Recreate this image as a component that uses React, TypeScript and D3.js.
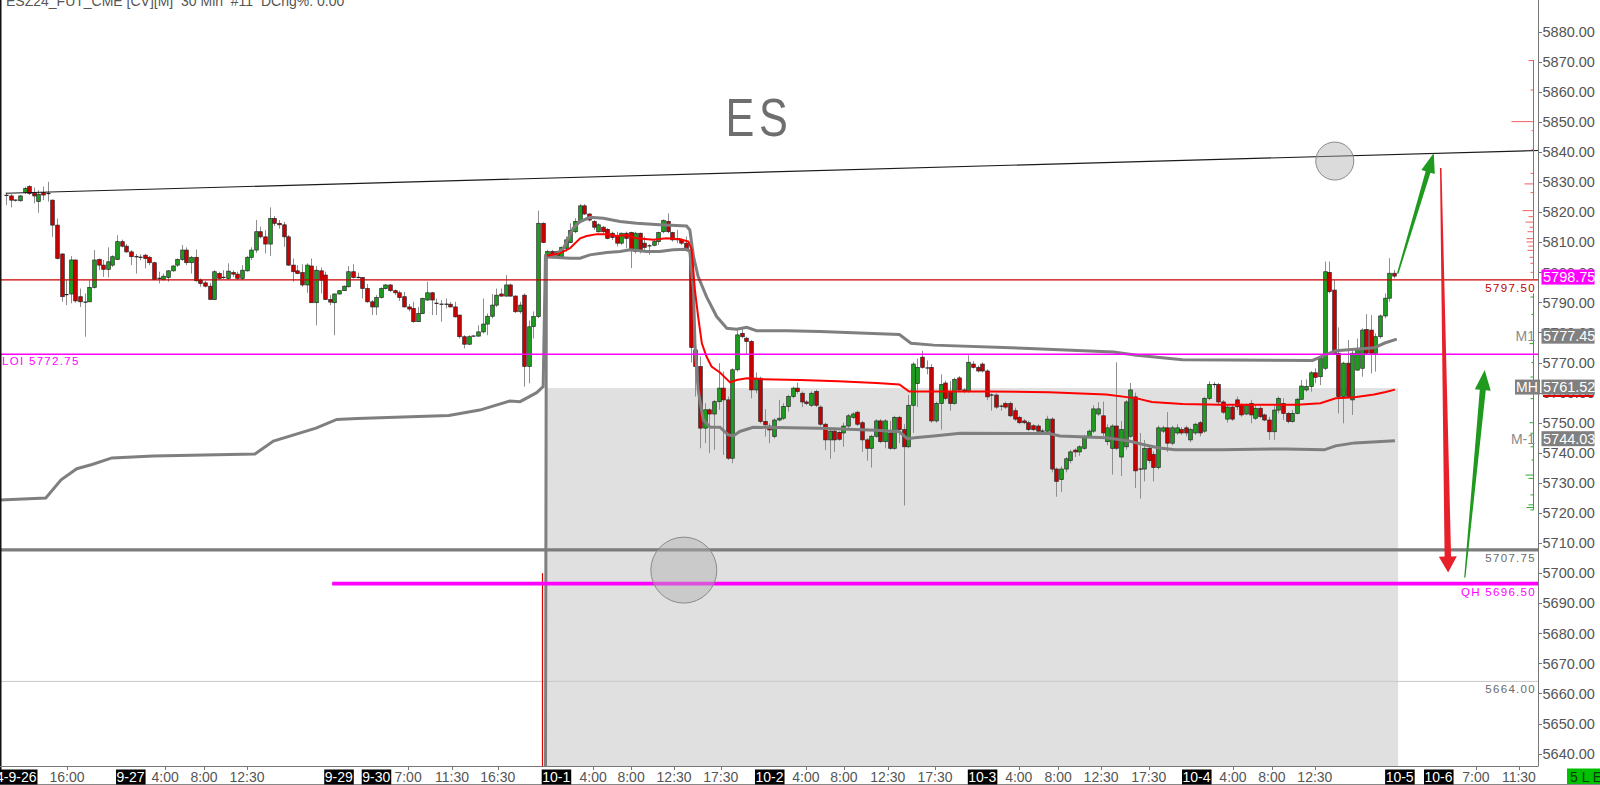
import React, { useEffect, useRef } from "react";
import * as d3 from "d3";

type Bar = [number, number, number, number]; // open, high, low, close

const title = "ESZ24_FUT_CME [CV][M]  30 Min  #11  DChg%: 0.00";
const symbolText = "ES";

const bars0926: Bar[] = [
  [5825.6, 5826.5, 5822.4, 5825.6], [5825.4, 5826.0, 5821.6, 5824.0], [5824.0, 5824.2, 5823.5, 5824.0], [5823.8, 5825.7, 5823.5, 5825.4],
  [5826.5, 5828.5, 5826.0, 5827.9], [5828.5, 5829.0, 5825.7, 5826.2], [5826.5, 5828.2, 5822.9, 5825.4], [5823.5, 5827.3, 5819.8, 5826.0],
  [5826.5, 5828.5, 5824.0, 5825.7], [5826.2, 5830.1, 5823.5, 5826.2], [5824.0, 5824.2, 5811.8, 5815.7], [5815.7, 5817.9, 5804.3, 5804.6],
  [5806.1, 5806.3, 5790.2, 5791.9], [5792.6, 5797.4, 5789.1, 5792.6], [5792.8, 5805.4, 5789.7, 5804.1], [5804.1, 5804.3, 5789.9, 5790.5],
  [5791.9, 5794.6, 5788.5, 5790.2], [5790.1, 5793.0, 5778.6, 5790.1], [5790.2, 5797.4, 5790.2, 5795.0], [5795.0, 5807.4, 5794.6, 5804.1],
  [5804.3, 5804.6, 5800.7, 5802.4], [5802.4, 5804.1, 5798.5, 5801.0], [5801.0, 5808.3, 5798.3, 5803.5], [5802.4, 5805.7, 5801.8, 5805.2],
];
const bars0927: Bar[] = [
  [5804.3, 5812.3, 5804.1, 5810.2], [5810.2, 5810.9, 5808.3, 5808.7], [5808.7, 5809.4, 5806.5, 5806.8], [5806.8, 5807.4, 5802.4, 5805.2],
  [5805.2, 5806.1, 5799.6, 5805.2], [5805.2, 5806.0, 5804.0, 5805.0], [5805.7, 5806.1, 5801.3, 5804.6], [5805.0, 5805.4, 5802.4, 5803.2],
  [5803.2, 5803.5, 5797.4, 5797.6], [5798.0, 5800.2, 5796.3, 5798.0], [5797.6, 5799.6, 5797.2, 5798.7], [5798.3, 5800.7, 5796.9, 5800.5],
  [5800.5, 5802.4, 5800.2, 5802.1], [5802.4, 5804.6, 5801.8, 5804.3], [5804.3, 5809.1, 5803.8, 5807.4], [5807.4, 5808.3, 5802.4, 5803.2],
  [5803.2, 5805.4, 5799.6, 5805.0], [5805.0, 5807.6, 5796.9, 5797.2], [5797.4, 5798.0, 5795.2, 5796.3], [5796.5, 5797.2, 5795.0, 5795.4],
  [5795.4, 5796.5, 5790.8, 5791.0], [5791.0, 5800.7, 5790.8, 5800.2], [5799.6, 5800.2, 5797.6, 5798.0], [5798.3, 5800.7, 5797.8, 5798.3],
  [5798.0, 5803.0, 5797.6, 5800.4], [5799.9, 5800.7, 5798.5, 5799.4], [5799.4, 5800.2, 5797.6, 5798.0], [5798.0, 5802.4, 5797.4, 5800.7],
  [5800.5, 5805.4, 5800.2, 5805.0], [5805.0, 5808.3, 5804.1, 5807.4], [5807.4, 5817.4, 5806.5, 5813.5], [5813.5, 5815.2, 5811.3, 5811.8],
  [5811.8, 5814.0, 5806.3, 5809.4], [5809.4, 5821.6, 5805.4, 5817.9], [5817.9, 5818.7, 5815.4, 5816.3], [5816.3, 5817.4, 5814.5, 5815.8],
  [5815.8, 5816.8, 5808.5, 5811.8], [5811.8, 5812.4, 5802.1, 5802.4], [5802.4, 5804.6, 5796.9, 5800.2], [5800.5, 5802.4, 5799.4, 5799.6],
  [5799.9, 5802.7, 5795.2, 5795.8], [5795.8, 5803.0, 5793.2, 5802.4], [5802.1, 5804.6, 5789.9, 5789.9], [5789.9, 5802.1, 5782.4, 5800.7],
  [5800.5, 5801.6, 5793.0, 5797.4],
];
const bars0929: Bar[] = [
  [5799.1, 5800.2, 5790.8, 5791.0], [5791.0, 5792.4, 5789.1, 5790.1], [5789.9, 5793.0, 5779.1, 5792.8], [5792.8, 5794.0, 5792.6, 5793.9],
  [5793.9, 5795.6, 5793.8, 5795.4], [5795.2, 5802.1, 5795.0, 5800.2], [5800.2, 5802.7, 5798.0, 5798.3], [5798.3, 5799.9, 5798.0, 5798.3],
];
const bars0930: Bar[] = [
  [5798.3, 5798.3, 5791.3, 5794.6], [5794.6, 5796.1, 5789.9, 5790.2], [5790.2, 5790.8, 5785.8, 5788.5], [5788.5, 5792.4, 5785.8, 5791.6],
  [5791.6, 5795.0, 5791.3, 5794.6], [5794.6, 5796.1, 5794.3, 5795.8], [5795.8, 5796.1, 5793.5, 5793.9], [5793.9, 5794.3, 5792.4, 5793.2],
  [5793.2, 5793.9, 5790.5, 5791.6], [5791.9, 5793.5, 5788.3, 5788.5], [5788.5, 5789.5, 5787.0, 5787.8], [5788.0, 5790.2, 5783.2, 5783.6],
  [5783.6, 5788.5, 5783.6, 5786.3], [5786.3, 5791.6, 5786.1, 5791.3], [5790.8, 5796.9, 5790.5, 5793.2], [5793.2, 5793.5, 5785.8, 5790.8],
  [5789.7, 5791.3, 5785.8, 5789.7], [5789.4, 5790.8, 5783.6, 5789.4], [5789.4, 5791.3, 5788.0, 5789.4], [5789.4, 5790.2, 5788.3, 5788.5],
  [5788.5, 5790.2, 5785.0, 5785.2], [5785.8, 5785.8, 5778.0, 5778.6], [5778.6, 5779.1, 5774.7, 5776.1], [5776.1, 5779.1, 5775.8, 5778.6],
  [5778.8, 5779.1, 5778.6, 5778.8], [5778.8, 5782.4, 5778.6, 5780.2], [5780.2, 5791.3, 5779.7, 5782.8], [5782.8, 5786.3, 5779.1, 5785.4],
  [5785.4, 5792.8, 5784.7, 5789.1], [5789.1, 5794.6, 5788.5, 5792.4], [5792.8, 5794.6, 5791.9, 5792.1], [5792.1, 5799.1, 5791.9, 5795.8],
  [5795.8, 5796.3, 5791.9, 5792.1], [5792.1, 5792.4, 5786.5, 5786.9], [5786.9, 5790.2, 5786.3, 5789.1], [5792.4, 5793.0, 5762.0, 5768.7],
  [5768.7, 5784.0, 5763.1, 5781.9], [5782.0, 5787.0, 5778.0, 5785.3], [5785.3, 5820.5, 5784.8, 5816.3],
];
const bars1001: Bar[] = [
  [5816.3, 5816.6, 5809.7, 5809.9], [5805.2, 5807.5, 5804.7, 5806.9], [5806.9, 5807.5, 5804.7, 5805.2], [5805.5, 5807.2, 5805.0, 5806.9],
  [5805.2, 5808.6, 5804.9, 5808.3], [5808.0, 5811.9, 5806.9, 5810.8], [5809.9, 5816.3, 5809.7, 5813.9], [5813.5, 5818.0, 5813.0, 5816.9],
  [5816.9, 5822.7, 5816.5, 5822.1], [5822.1, 5822.7, 5819.1, 5819.4], [5819.4, 5819.6, 5816.9, 5817.4], [5816.9, 5817.4, 5814.1, 5815.0],
  [5813.5, 5816.3, 5813.2, 5815.8], [5815.0, 5815.4, 5813.0, 5813.5], [5814.3, 5814.7, 5811.0, 5811.3], [5813.0, 5813.5, 5810.8, 5811.6],
  [5811.9, 5813.5, 5808.6, 5809.7], [5809.7, 5813.2, 5809.1, 5813.0], [5813.0, 5813.5, 5808.0, 5811.3], [5813.2, 5813.5, 5801.4, 5807.7],
  [5806.9, 5813.5, 5806.3, 5813.0], [5813.0, 5813.2, 5806.3, 5806.9], [5809.7, 5811.9, 5807.5, 5808.3], [5808.8, 5809.4, 5805.8, 5808.8],
  [5809.0, 5810.8, 5808.6, 5810.2], [5810.2, 5813.5, 5809.1, 5813.2], [5813.5, 5817.6, 5813.0, 5817.2], [5816.9, 5819.6, 5813.0, 5813.5],
  [5813.2, 5813.5, 5810.2, 5810.8], [5811.3, 5814.1, 5809.7, 5810.8], [5810.8, 5811.3, 5809.1, 5809.7], [5809.7, 5811.9, 5806.9, 5807.5],
  [5807.5, 5808.0, 5770.0, 5775.0], [5774.2, 5774.5, 5758.7, 5768.7], [5768.7, 5772.0, 5741.5, 5748.2], [5748.2, 5756.5, 5743.2, 5754.3],
  [5754.3, 5754.8, 5739.9, 5752.9], [5752.9, 5757.6, 5741.0, 5757.0], [5757.0, 5769.8, 5754.3, 5761.5], [5761.5, 5767.0, 5739.3, 5757.6],
  [5757.6, 5758.7, 5737.6, 5738.2], [5738.2, 5768.1, 5736.5, 5767.6], [5767.6, 5781.4, 5767.0, 5779.2], [5779.7, 5781.4, 5778.1, 5778.6],
  [5778.1, 5778.6, 5772.5, 5777.0], [5777.0, 5777.5, 5758.1, 5760.9],
];
const bars1002: Bar[] = [
  [5760.9, 5766.7, 5759.8, 5764.8], [5764.8, 5765.3, 5749.8, 5750.4], [5750.4, 5754.5, 5745.4, 5749.3], [5748.9, 5749.8, 5743.2, 5747.6],
  [5745.4, 5751.5, 5744.8, 5750.9], [5750.9, 5757.6, 5750.4, 5751.5], [5751.5, 5756.5, 5750.9, 5755.4], [5755.4, 5759.3, 5753.7, 5758.7],
  [5758.7, 5762.0, 5758.1, 5761.5], [5761.5, 5763.3, 5759.6, 5760.4], [5759.8, 5760.4, 5755.2, 5756.9], [5756.9, 5757.5, 5755.8, 5756.4],
  [5755.8, 5760.4, 5755.2, 5759.8], [5760.4, 5761.0, 5755.2, 5755.8], [5755.2, 5755.8, 5748.9, 5749.5], [5749.5, 5750.0, 5740.9, 5744.3],
  [5744.3, 5747.7, 5738.0, 5747.2], [5747.2, 5747.7, 5740.3, 5744.3], [5746.8, 5747.2, 5744.0, 5744.5], [5746.6, 5750.0, 5742.0, 5748.9],
  [5748.9, 5752.9, 5748.3, 5752.3], [5751.8, 5753.5, 5751.2, 5752.9], [5753.5, 5754.0, 5748.9, 5749.5], [5750.0, 5750.6, 5740.3, 5744.3],
  [5744.3, 5744.9, 5737.4, 5741.5], [5741.5, 5746.0, 5735.1, 5745.5], [5745.5, 5751.2, 5745.0, 5750.6], [5750.6, 5751.2, 5743.2, 5743.7],
  [5743.7, 5751.2, 5741.5, 5750.6], [5746.6, 5750.6, 5741.0, 5741.5], [5741.5, 5752.3, 5741.0, 5751.8], [5751.8, 5752.3, 5743.2, 5747.7],
  [5747.7, 5749.5, 5722.5, 5742.0], [5742.0, 5759.2, 5741.5, 5755.8], [5755.8, 5770.1, 5746.6, 5769.5], [5763.0, 5771.3, 5755.2, 5768.4],
  [5771.8, 5773.9, 5768.0, 5768.4], [5768.2, 5770.7, 5766.1, 5768.2], [5768.4, 5769.5, 5750.0, 5750.6], [5750.6, 5757.0, 5750.0, 5756.4],
  [5756.4, 5766.1, 5747.7, 5762.7], [5763.2, 5764.0, 5757.5, 5758.1], [5760.4, 5763.8, 5754.0, 5756.4], [5756.4, 5765.0, 5756.0, 5764.4],
  [5764.9, 5765.5, 5760.5, 5760.9], [5760.9, 5761.5, 5759.8, 5760.4],
];
const bars1003: Bar[] = [
  [5760.4, 5772.4, 5760.0, 5770.1], [5769.5, 5770.5, 5768.0, 5768.4], [5768.4, 5769.0, 5766.7, 5767.2], [5769.5, 5770.1, 5766.7, 5767.2],
  [5767.2, 5767.8, 5757.5, 5758.6], [5759.2, 5759.8, 5754.0, 5759.2], [5759.2, 5759.8, 5754.6, 5755.2], [5755.6, 5756.0, 5754.0, 5755.5],
  [5756.4, 5757.0, 5754.6, 5755.2], [5756.4, 5757.0, 5751.8, 5752.3], [5754.0, 5755.0, 5750.6, 5751.2], [5751.8, 5752.3, 5749.5, 5750.0],
  [5750.6, 5751.2, 5749.5, 5750.0], [5750.0, 5750.6, 5747.2, 5747.7], [5749.0, 5749.5, 5747.2, 5747.7], [5748.9, 5749.5, 5746.6, 5747.2],
  [5747.2, 5748.0, 5746.0, 5747.2], [5747.2, 5752.3, 5746.6, 5751.2], [5751.2, 5751.8, 5733.5, 5734.6], [5734.6, 5735.1, 5725.4, 5730.5],
  [5731.1, 5735.5, 5727.0, 5734.6], [5734.6, 5738.6, 5733.5, 5738.0], [5737.4, 5741.0, 5736.5, 5740.3], [5740.9, 5741.5, 5738.6, 5740.3],
  [5740.3, 5742.5, 5739.0, 5742.0], [5741.5, 5746.0, 5741.0, 5745.5], [5745.5, 5747.8, 5745.0, 5747.2], [5747.2, 5755.8, 5746.6, 5754.6],
  [5752.9, 5756.8, 5752.3, 5754.6], [5752.3, 5757.0, 5745.5, 5746.6], [5743.7, 5749.5, 5742.5, 5748.3], [5741.5, 5749.5, 5732.8, 5748.9],
  [5748.9, 5770.1, 5740.9, 5741.5], [5738.6, 5750.6, 5732.3, 5747.7], [5742.0, 5757.5, 5741.0, 5756.9], [5745.5, 5763.2, 5745.0, 5760.9],
  [5758.6, 5760.0, 5728.3, 5734.0], [5734.6, 5746.6, 5724.8, 5734.6], [5734.6, 5744.3, 5730.5, 5741.5], [5741.5, 5742.0, 5736.5, 5737.4],
  [5739.5, 5740.5, 5730.5, 5735.1], [5735.1, 5749.0, 5734.5, 5748.3], [5747.2, 5749.0, 5746.6, 5748.3], [5748.3, 5753.5, 5740.3, 5743.2],
  [5743.2, 5749.0, 5742.5, 5748.3], [5746.6, 5749.5, 5746.0, 5748.3],
];
const bars1004: Bar[] = [
  [5747.7, 5748.5, 5746.0, 5746.6], [5748.3, 5749.0, 5745.5, 5746.6], [5744.3, 5748.3, 5743.5, 5747.7], [5746.6, 5750.0, 5746.0, 5749.5],
  [5750.0, 5750.6, 5745.5, 5746.6], [5747.2, 5758.6, 5746.6, 5758.1], [5758.1, 5763.8, 5757.5, 5762.7], [5762.7, 5763.5, 5761.5, 5762.7],
  [5762.7, 5763.2, 5756.0, 5756.9], [5756.9, 5757.5, 5752.9, 5753.5], [5751.2, 5755.8, 5750.0, 5755.2], [5755.2, 5756.0, 5750.6, 5751.2],
  [5757.6, 5758.7, 5754.2, 5755.3], [5755.9, 5756.5, 5752.0, 5752.6], [5752.9, 5756.4, 5752.5, 5755.9], [5756.4, 5757.6, 5749.8, 5752.6],
  [5751.5, 5755.9, 5750.9, 5754.8], [5754.8, 5755.5, 5751.5, 5752.0], [5752.6, 5753.0, 5750.5, 5750.9], [5750.9, 5752.0, 5744.3, 5747.0],
  [5747.0, 5755.5, 5744.3, 5754.2], [5754.2, 5758.7, 5753.1, 5758.1], [5756.4, 5758.1, 5750.9, 5753.1], [5753.1, 5753.6, 5749.8, 5750.4],
  [5750.4, 5754.2, 5750.0, 5753.1], [5753.1, 5758.3, 5752.8, 5757.8], [5757.8, 5764.2, 5757.6, 5762.2], [5760.9, 5764.4, 5760.3, 5762.0],
  [5762.0, 5767.2, 5760.3, 5766.6], [5766.6, 5768.1, 5763.1, 5765.1], [5765.3, 5772.0, 5762.5, 5771.4], [5768.1, 5803.6, 5767.5, 5800.2],
  [5800.0, 5803.6, 5793.0, 5793.6], [5794.1, 5797.4, 5772.5, 5773.1], [5773.1, 5781.7, 5753.1, 5758.7], [5758.7, 5770.3, 5749.8, 5769.8],
  [5769.8, 5777.5, 5758.5, 5758.7], [5757.6, 5774.2, 5752.6, 5773.1], [5767.5, 5778.0, 5767.3, 5774.7], [5768.1, 5781.4, 5765.3, 5780.8],
  [5781.0, 5786.1, 5772.5, 5773.1], [5780.8, 5785.8, 5766.4, 5773.1], [5773.1, 5779.7, 5767.0, 5778.6], [5778.6, 5786.0, 5778.0, 5785.5],
  [5785.5, 5793.0, 5784.7, 5791.4], [5791.4, 5804.7, 5790.2, 5799.7], [5799.7, 5800.8, 5798.0, 5798.75],
];

// [bar index, price]
const vwap: [number, number][] = [
  [116.9, 5805.5], [119.7, 5806.3], [121.9, 5808.0], [124.1, 5811.3], [125.5, 5812.1], [127.7, 5812.7], [129.8, 5812.7],
  [132.0, 5812.1], [134.1, 5812.4], [136.3, 5811.3], [139.9, 5810.8], [142.8, 5811.3], [145.7, 5811.0], [147.5, 5810.2],
  [148.2, 5807.5], [148.9, 5794.1], [149.6, 5785.3], [150.4, 5776.4], [151.4, 5772.0], [152.5, 5768.7], [154.3, 5766.7],
  [156.5, 5763.4], [157.9, 5764.2], [160.1, 5764.8], [163.0, 5764.5], [171.6, 5764.2], [179.9, 5763.8], [188.1, 5763.2],
  [193.1, 5762.7], [195.2, 5760.4], [213, 5760.4], [225.4, 5760.1], [237.8, 5759.4], [244.4, 5758.1], [247.7, 5756.9],
  [254.3, 5756.2], [262.6, 5756.0], [279.1, 5756.0], [284.1, 5756.5], [287.4, 5758.1], [291.5, 5758.5], [295.7, 5759.4],
  [298.2, 5760.2], [300.2, 5761.0],
];
const upperBand: [number, number][] = [
  [116.9, 5805.2], [118.3, 5805.2], [120.5, 5808.0], [122.6, 5814.7], [124.1, 5816.9], [126.2, 5818.3], [129.1, 5818.0],
  [132.7, 5816.9], [136.3, 5816.3], [141.3, 5815.8], [147.1, 5815.4], [147.8, 5814.1], [148.6, 5805.2], [149.6, 5798.6],
  [151.4, 5791.9], [153.6, 5785.3], [155.8, 5781.4], [157.9, 5781.1], [160.1, 5781.7], [162.2, 5780.6], [168.7, 5780.6],
  [175.9, 5780.3], [193.1, 5779.3], [195.6, 5776.4], [200.5, 5775.8], [221.2, 5774.7], [239.4, 5773.5], [244.4, 5772.4],
  [254.3, 5770.9], [282.4, 5770.7], [284.9, 5772.4], [287.4, 5773.9], [295.7, 5774.9], [298, 5776.5], [300.6, 5777.8],
];
const lowerBand: [number, number][] = [
  [116.6, 5630], [116.8, 5805.2], [118.3, 5805.0], [121.9, 5804.7], [124.1, 5804.7], [126.2, 5805.8], [129.8, 5806.6],
  [132.7, 5806.9], [134.9, 5807.5], [138.5, 5806.9], [141.3, 5806.9], [144.2, 5807.5], [147.1, 5807.7], [147.8, 5806.9],
  [148.6, 5794.1], [148.9, 5776.4], [149.6, 5760.9], [150.7, 5751.0], [152.2, 5748.5], [154.3, 5748.5], [156.1, 5746.0],
  [157.2, 5745.6], [158.6, 5747.1], [161.5, 5748.5], [175.9, 5748.2], [188.1, 5747.5], [193.1, 5747.0], [194.8, 5744.7],
  [196.4, 5745.0], [200.5, 5745.6], [206.3, 5746.5], [225.4, 5746.4], [227.8, 5745.6], [237.8, 5745.0], [242.7, 5743.9],
  [246.0, 5742.7], [249.3, 5741.6], [252.7, 5741.0], [262.6, 5741.0], [276.6, 5741.3], [284.9, 5741.0], [287.4, 5742.3],
  [291.5, 5743.3], [300.2, 5744.0],
];
const priorLowerBand: [number, number][] = [
  [-1.5, 5724.3], [8.6, 5725.0], [11.9, 5731.0], [15.3, 5734.7], [18.6, 5736.1], [22.9, 5738.3], [31.8, 5738.9],
  [53.8, 5739.6], [57.8, 5743.9], [67.0, 5748.2], [71.5, 5751.1], [75.9, 5751.4], [95.7, 5752.4], [102.4, 5754.2],
  [108.9, 5757.2], [111.1, 5757.0], [114.7, 5760.0], [116.1, 5762.0], [116.6, 5806.0],
];
const spike = { i: 115.9, top: 5700, bottom: 5630 };
const valueArea = { from: 116.8, to: 300.9, top: 5761.52 };

const levels = [
  { p: 5664.0, color: "#c8c8c8", w: 1, from: -2, label: "5664.00", lc: "#6a6a6a" },
  { p: 5707.75, color: "#7c7c7c", w: 3.2, from: -2, label: "5707.75", lc: "#6a6a6a" },
  { p: 5696.5, color: "#ff00ff", w: 3.6, from: 70.5, label: "QH 5696.50", lc: "#ff00ff" },
  { p: 5772.75, color: "#ff00ff", w: 1.6, from: -2, label: "", lc: "#ff00ff" },
  { p: 5797.5, color: "#c80000", w: 1.3, from: -2, label: "5797.50", lc: "#c00000" },
];
const trendLine: [number, number][] = [[-0.05, 5826.3], [331.2, 5840.5]];
const circles = [ { i: 287.2, p: 5837.0, r: 19 }, { i: 146.5, p: 5701.0, r: 33 } ];
const arrows = [
  { from: [300.8, 5799.6], to: [308.6, 5839.7], color: "#1f9a1f", w1: 1.5, w2: 5, hw: 14, hl: 20 },
  { from: [310.1, 5834.7], to: [311.7, 5700.2], color: "#e8202a", w1: 1.5, w2: 6.5, hw: 18, hl: 16 },
  { from: [315.3, 5698.5], to: [319.6, 5767.5], color: "#1f9a1f", w1: 1.2, w2: 6, hw: 16, hl: 20 },
];
const profileRed: [number, number][] = [
  [5870.4, 5], [5860.6, 3], [5850.1, 22], [5847.1, 2], [5840.9, 2], [5832.9, 3], [5829.4, 9], [5826.5, 3], [5820.5, 11],
  [5818.5, 5], [5816.7, 8], [5815.0, 4], [5813.5, 6], [5811.2, 7], [5810.1, 7], [5808.7, 5], [5807.3, 6], [5805.0, 4], [5803.0, 3], [5800.0, 3],
];
const profileGreen: [number, number][] = [
  [5791.8, 3], [5786.0, 2], [5776.3, 4], [5770.0, 2], [5765.2, 3], [5758.0, 3], [5750.0, 4], [5746.5, 3], [5742.0, 3],
  [5737.6, 2], [5732.6, 8], [5731.5, 5], [5726.0, 3], [5722.7, 5], [5721.8, 7], [5721.0, 3],
];
const axisBoxes = [
  { p: 5798.75, text: "5798.75", fill: "#ff00ff", tag: "", tagBox: false, dy: 1 },
  { p: 5777.45, text: "5777.45", fill: "#808080", tag: "M1", tagBox: false, dy: -4 },
  { p: 5761.52, text: "5761.52", fill: "#808080", tag: "MH", tagBox: true, dy: -1 },
  { p: 5744.03, text: "5744.03", fill: "#808080", tag: "M-1", tagBox: false, dy: -2 },
];
const priceTicks = d3.range(5640, 5881, 10);
const dateLabels: [string, number][] = [
  ["2024-9-26", -7.1], ["9-27", 24], ["9-29", 69], ["9-30", 77.1], ["10-1", 116], ["10-2", 162.1],
  ["10-3", 208.1], ["10-4", 254.4], ["10-5", 298.3], ["10-6", 306.7],
];
const timeLabels: [string, number][] = [
  ["16:00", 13.2], ["4:00", 34.4], ["8:00", 42.8], ["12:30", 52.1], ["7:00", 86.9], ["11:30", 96.4], ["16:30", 106.3],
  ["4:00", 126.9], ["8:00", 135.1], ["12:30", 144.4], ["17:30", 154.5], ["4:00", 172.9], ["8:00", 181.1], ["12:30", 190.6],
  ["17:30", 200.8], ["4:00", 218.9], ["8:00", 227.4], ["12:30", 236.7], ["17:30", 247.0], ["4:00", 265.2], ["8:00", 273.6],
  ["12:30", 282.9], ["7:00", 317.7], ["11:30", 327.0],
];

const FF = "'Liberation Sans', Arial, sans-serif";

export default function App() {
  const ref = useRef<SVGSVGElement | null>(null);
  useEffect(() => {
    const svg = d3.select(ref.current as SVGSVGElement);
    svg.selectAll("*").remove();
    const bars = [...bars0926, ...bars0927, ...bars0929, ...bars0930, ...bars1001, ...bars1002, ...bars1003, ...bars1004];
    const XR = 1538.5, YB = 766;
    const x = d3.scaleLinear().domain([0, 300]).range([6, 1394]);
    const y = d3.scaleLinear().domain([5640, 5880]).range([753.6, 31.7]);

    svg.append("rect").attr("width", 1600).attr("height", 785).attr("fill", "#ffffff");
    svg.append("defs").append("clipPath").attr("id", "plotClip")
      .append("rect").attr("x", 0).attr("y", 0).attr("width", XR).attr("height", YB);
    const plot = svg.append("g").attr("clip-path", "url(#plotClip)");

    // value area shading
    plot.append("rect").attr("x", x(valueArea.from)).attr("y", y(valueArea.top))
      .attr("width", x(valueArea.to) - x(valueArea.from)).attr("height", YB - y(valueArea.top)).attr("fill", "#e0e0e0");

    // faint level first
    const lv0 = levels[0];
    plot.append("line").attr("x1", x(lv0.from)).attr("x2", XR).attr("y1", y(lv0.p)).attr("y2", y(lv0.p))
      .attr("stroke", lv0.color).attr("stroke-width", lv0.w);

    // spike
    plot.append("line").attr("x1", Math.round(x(spike.i)) + 0.5).attr("x2", Math.round(x(spike.i)) + 0.5)
      .attr("y1", y(spike.top)).attr("y2", y(spike.bottom)).attr("stroke", "#e00000").attr("stroke-width", 1.2);

    // candles
    const cg = plot.append("g");
    bars.forEach(([o, h, l, c], i) => {
      const cx = Math.round(x(i)) + 0.5;
      cg.append("line").attr("x1", cx).attr("x2", cx).attr("y1", y(h)).attr("y2", y(l))
        .attr("stroke", "#8e8e8e").attr("stroke-width", 1);
      if (Math.abs(o - c) < 0.25) {
        cg.append("line").attr("x1", cx - 2).attr("x2", cx + 2).attr("y1", y(c)).attr("y2", y(c))
          .attr("stroke", "#202020").attr("stroke-width", 1.2);
      } else {
        const top = y(Math.max(o, c)), bot = y(Math.min(o, c));
        cg.append("rect").attr("x", cx - 1.8).attr("y", top).attr("width", 3.6).attr("height", Math.max(1, bot - top))
          .attr("fill", c > o ? "#1e9e1e" : "#cc0000").attr("stroke", "#262626").attr("stroke-width", 0.7);
      }
    });

    const line = d3.line<[number, number]>().x((d) => x(d[0])).y((d) => y(d[1]));
    plot.append("path").attr("d", line(priorLowerBand) as string).attr("fill", "none").attr("stroke", "#7f7f7f").attr("stroke-width", 3);
    plot.append("path").attr("d", line(lowerBand) as string).attr("fill", "none").attr("stroke", "#7f7f7f").attr("stroke-width", 3);
    plot.append("path").attr("d", line(upperBand) as string).attr("fill", "none").attr("stroke", "#7f7f7f").attr("stroke-width", 3);
    plot.append("path").attr("d", line(vwap) as string).attr("fill", "none").attr("stroke", "#ff0000").attr("stroke-width", 2);

    // levels
    levels.slice(1).forEach((lv) => {
      plot.append("line").attr("x1", x(lv.from)).attr("x2", XR).attr("y1", y(lv.p)).attr("y2", y(lv.p))
        .attr("stroke", lv.color).attr("stroke-width", lv.w);
    });
    levels.forEach((lv) => {
      if (!lv.label) return;
      plot.append("text").attr("x", 1536).attr("y", y(lv.p) + 11 + lv.w / 2).attr("text-anchor", "end")
        .attr("font-family", FF).attr("font-size", 11.5).attr("letter-spacing", 1.3).attr("fill", lv.lc).text(lv.label);
    });
    plot.append("text").attr("x", 2).attr("y", y(5772.75) + 11).attr("font-family", FF).attr("font-size", 11.5)
      .attr("letter-spacing", 1.3).attr("fill", "#ff00ff").text("LOI 5772.75");

    // trend line
    plot.append("line").attr("x1", x(trendLine[0][0])).attr("y1", y(trendLine[0][1]))
      .attr("x2", x(trendLine[1][0])).attr("y2", y(trendLine[1][1])).attr("stroke", "#1a1a1a").attr("stroke-width", 1.2);

    // circles
    circles.forEach((c) => {
      plot.append("circle").attr("cx", x(c.i)).attr("cy", y(c.p)).attr("r", c.r)
        .attr("fill", "rgba(175,175,175,0.45)").attr("stroke", "#8a8a8a").attr("stroke-width", 1);
    });

    // big symbol
    svg.append("text").attr("transform", "translate(759,136) scale(0.8,1)").attr("text-anchor", "middle")
      .attr("font-family", FF).attr("font-size", 54).attr("letter-spacing", 6).attr("fill", "#6e6e6e").text(symbolText);

    // arrows
    arrows.forEach((a) => {
      const x1 = x(a.from[0]), y1 = y(a.from[1]), x2 = x(a.to[0]), y2 = y(a.to[1]);
      const dx = x2 - x1, dy = y2 - y1, L = Math.hypot(dx, dy);
      const ux = dx / L, uy = dy / L, nx = -uy, ny = ux;
      const bx = x2 - ux * a.hl, by = y2 - uy * a.hl;
      const pts: [number, number][] = [
        [x1 + (nx * a.w1) / 2, y1 + (ny * a.w1) / 2], [bx + (nx * a.w2) / 2, by + (ny * a.w2) / 2],
        [bx + (nx * a.hw) / 2, by + (ny * a.hw) / 2], [x2, y2], [bx - (nx * a.hw) / 2, by - (ny * a.hw) / 2],
        [bx - (nx * a.w2) / 2, by - (ny * a.w2) / 2], [x1 - (nx * a.w1) / 2, y1 - (ny * a.w1) / 2],
      ];
      svg.append("polygon").attr("points", pts.map((p) => p.join(",")).join(" ")).attr("fill", a.color);
    });

    // profile
    const px = 1533.5;
    svg.append("line").attr("x1", px).attr("x2", px).attr("y1", y(5870.6)).attr("y2", y(5797.5)).attr("stroke", "#f04848").attr("stroke-width", 1);
    profileRed.forEach(([p, len]) => {
      svg.append("line").attr("x1", px - len).attr("x2", px).attr("y1", y(p)).attr("y2", y(p)).attr("stroke", "#f06060").attr("stroke-width", 1);
    });
    svg.append("line").attr("x1", px).attr("x2", px).attr("y1", y(5793)).attr("y2", y(5721)).attr("stroke", "#2aa82a").attr("stroke-width", 1);
    profileGreen.forEach(([p, len]) => {
      svg.append("line").attr("x1", px - len).attr("x2", px).attr("y1", y(p)).attr("y2", y(p)).attr("stroke", "#2aa82a").attr("stroke-width", 1);
    });

    // axes
    svg.append("line").attr("x1", 0.75).attr("x2", 0.75).attr("y1", 0).attr("y2", 785).attr("stroke", "#111").attr("stroke-width", 1.5);
    svg.append("line").attr("x1", XR).attr("x2", XR).attr("y1", 0).attr("y2", YB).attr("stroke", "#777").attr("stroke-width", 1);
    svg.append("line").attr("x1", 0).attr("x2", XR).attr("y1", YB + 0.5).attr("y2", YB + 0.5).attr("stroke", "#777").attr("stroke-width", 1);
    svg.append("line").attr("x1", 0).attr("x2", 1600).attr("y1", 784.5).attr("y2", 784.5).attr("stroke", "#888").attr("stroke-width", 1);

    priceTicks.forEach((p) => {
      const yy = y(p);
      svg.append("line").attr("x1", XR).attr("x2", XR + 3.5).attr("y1", Math.round(yy) + 0.5).attr("y2", Math.round(yy) + 0.5).attr("stroke", "#777");
      svg.append("text").attr("x", 1542.5).attr("y", yy).attr("dy", "0.36em").attr("font-family", FF).attr("font-size", 14.5)
        .attr("fill", "#555").text(p.toFixed(2));
    });

    axisBoxes.forEach((b) => {
      const cy = y(b.p) + b.dy;
      svg.append("rect").attr("x", 1541.5).attr("y", cy - 7.5).attr("width", 53).attr("height", 15).attr("fill", b.fill);
      svg.append("text").attr("x", 1543).attr("y", cy).attr("dy", "0.36em").attr("font-family", FF).attr("font-size", 14.5)
        .attr("fill", "#ffffff").text(b.text);
      if (b.tag) {
        if (b.tagBox) {
          svg.append("rect").attr("x", 1515).attr("y", cy - 7.5).attr("width", 25).attr("height", 15).attr("fill", "#808080");
          svg.append("text").attr("x", 1516).attr("y", cy).attr("dy", "0.36em").attr("font-family", FF).attr("font-size", 14)
            .attr("fill", "#ffffff").text(b.tag);
        } else {
          svg.append("text").attr("x", 1535).attr("y", cy).attr("dy", "0.36em").attr("text-anchor", "end").attr("font-family", FF)
            .attr("font-size", 14).attr("fill", "#8a8a8a").text(b.tag);
        }
      }
    });
    svg.append("line").attr("x1", 1543).attr("x2", 1593).attr("y1", y(5761.52) + 8).attr("y2", y(5761.52) + 8).attr("stroke", "#e00000").attr("stroke-width", 2);

    // x axis labels
    timeLabels.forEach(([t, i]) => {
      const xx = x(i);
      svg.append("line").attr("x1", Math.round(xx) + 0.5).attr("x2", Math.round(xx) + 0.5).attr("y1", YB + 1).attr("y2", YB + 4).attr("stroke", "#777");
      svg.append("text").attr("x", xx).attr("y", 781.5).attr("text-anchor", "middle").attr("font-family", FF).attr("font-size", 14)
        .attr("fill", "#555").text(t);
    });
    dateLabels.forEach(([t, i]) => {
      const left = x(i) - 1;
      const g = svg.append("g");
      const rect = g.append("rect").attr("x", left).attr("y", 769.5).attr("height", 15).attr("fill", "#000");
      const txt = g.append("text").attr("x", left + 0.5).attr("y", 781.5).attr("font-family", FF).attr("font-size", 14)
        .attr("fill", "#fff").text(t);
      const node = txt.node() as SVGTextElement;
      const w = node && node.getComputedTextLength ? node.getComputedTextLength() : t.length * 7.5;
      rect.attr("width", w + 1.5);
    });
    svg.append("rect").attr("x", 1567).attr("y", 768.5).attr("width", 33).attr("height", 15.5).attr("fill", "#00c000");
    svg.append("text").attr("x", 1570).attr("y", 781.5).attr("font-family", FF).attr("font-size", 14).attr("fill", "#0b3d0b").text("5 L E");

    // title
    svg.append("text").attr("x", 6).attr("y", 6).attr("font-family", FF).attr("font-size", 14).attr("fill", "#555")
      .attr("xml:space", "preserve").style("white-space", "pre").text(title);
  }, []);
  return (
    <svg ref={ref} width={1600} height={785} style={{ position: "absolute", left: 0, top: 0, display: "block" }} />
  );
}
